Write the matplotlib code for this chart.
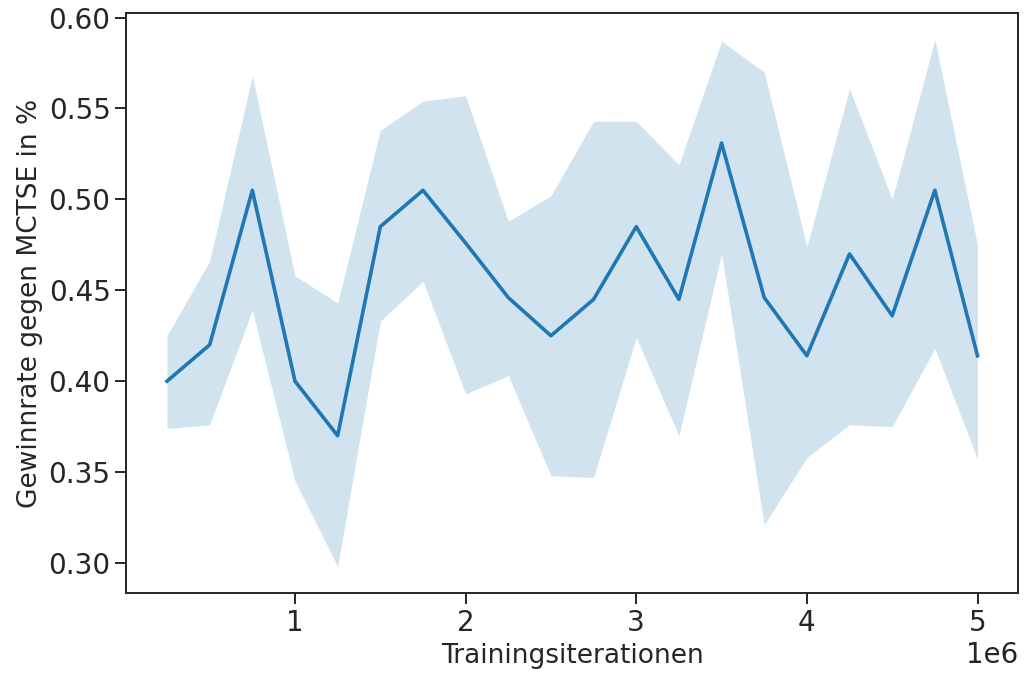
import matplotlib.pyplot as plt
import numpy as np

# training iterations and win rate against MCTSE (mean and CI band)
iterations = np.arange(1, 21) * 250000
win_rate = [0.400, 0.420, 0.505, 0.400, 0.370, 0.485, 0.505, 0.476, 0.446, 0.425,
            0.445, 0.485, 0.445, 0.531, 0.446, 0.414, 0.470, 0.436, 0.505, 0.414]
ci_upper = [0.425, 0.466, 0.568, 0.458, 0.443, 0.538, 0.554, 0.557, 0.488, 0.502,
            0.543, 0.543, 0.519, 0.587, 0.570, 0.474, 0.561, 0.500, 0.588, 0.475]
ci_lower = [0.374, 0.376, 0.439, 0.345, 0.298, 0.433, 0.455, 0.393, 0.403, 0.348,
            0.347, 0.424, 0.370, 0.470, 0.321, 0.358, 0.376, 0.375, 0.418, 0.357]

plt.rcParams['font.size'] = 20
plt.rcParams['axes.labelsize'] = 19
plt.rcParams['axes.linewidth'] = 1.4
plt.rcParams['text.color'] = '#262626'
plt.rcParams['axes.labelcolor'] = '#262626'
plt.rcParams['axes.edgecolor'] = '#262626'
plt.rcParams['xtick.color'] = '#262626'
plt.rcParams['ytick.color'] = '#262626'

fig = plt.figure(figsize=(10.25, 6.75), dpi=100)
ax = fig.add_axes([0.1234, 0.1215, 0.8698, 0.8592])

ax.fill_between(iterations, ci_lower, ci_upper, color='#1f77b4', alpha=0.2, linewidth=0)
ax.plot(iterations, win_rate, color='#1f77b4', linewidth=2.6)

ax.set_xlabel('Trainingsiterationen')
ax.set_ylabel('Gewinnrate gegen MCTSE in %')
ax.set_yticks([0.30, 0.35, 0.40, 0.45, 0.50, 0.55, 0.60])
ax.set_xticks([1e6, 2e6, 3e6, 4e6, 5e6])
ax.tick_params(length=8, width=1.4)

fig.savefig('out.png')
